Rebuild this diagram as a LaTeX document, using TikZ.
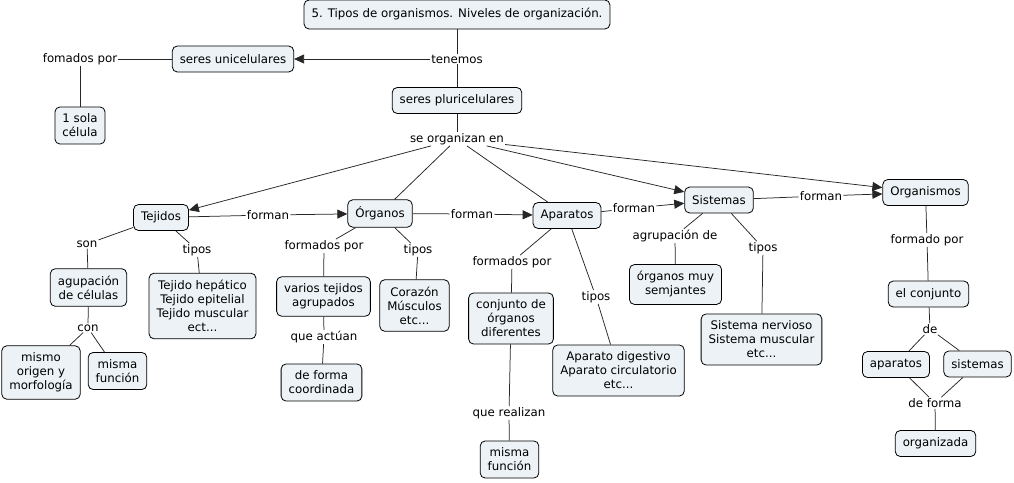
\documentclass[tikz,border=0pt]{standalone}
\usepackage{fontspec}
\setmainfont{DejaVu Sans}
\usetikzlibrary{arrows.meta}
\definecolor{conceptfill}{RGB}{236,242,245}

\begin{document}
\begin{tikzpicture}[x=1pt, y=-1pt,
    concept/.style={draw=black, fill=conceptfill, rounded corners=5pt, line width=0.8pt,
      align=center, inner xsep=7.5pt, inner ysep=7pt, minimum height=26pt,
      font=\fontsize{11.8}{14}\selectfont},
    linkword/.style={inner sep=1pt, font=\fontsize{11.8}{14}\selectfont},
    conn/.style={black!85, line width=0.75pt},
    connarrow/.style={conn, -{Triangle[length=10pt,width=9pt]}}]
  \useasboundingbox (0,0) rectangle (1014,482);

  \node[concept, minimum height=29pt] (title) at (457,14.5) {5. Tipos de organismos. Niveles de organización.};
  \node[linkword] (tenemos) at (457,59) {tenemos};
  \node[concept] (uni) at (233,59) {seres unicelulares};
  \node[linkword] (fomados) at (80,59) {fomados por};
  \node[concept] (sola) at (80,125.5) {1 sola\\célula};
  \node[concept] (pluri) at (457,100.5) {seres pluricelulares};
  \node[linkword] (seorg) at (457,139) {se organizan en};

  \node[concept] (tej) at (161,217.5) {Tejidos};
  \node[concept] (org) at (380,213.5) {Órganos};
  \node[concept] (apa) at (567,215.5) {Aparatos};
  \node[concept] (sis) at (719,200) {Sistemas};
  \node[concept] (orgm) at (925.5,192.5) {Organismos};
  \node[linkword] (forman1) at (268,215) {forman};
  \node[linkword] (forman2) at (472,214) {forman};
  \node[linkword] (forman3) at (634,208) {forman};
  \node[linkword] (forman4) at (821,196) {forman};

  \node[linkword] (son) at (87,244) {son};
  \node[concept] (agup) at (88.5,287.5) {agupación\\de células};
  \node[linkword] (con) at (88,328) {con};
  \node[concept] (mismo) at (41,372.5) {mismo\\origen y\\morfología};
  \node[concept] (mfunA) at (117.5,371) {misma\\función};
  \node[linkword] (tiposT) at (197,250) {tipos};
  \node[concept] (tejhep) at (202.5,306) {Tejido hepático\\Tejido epitelial\\Tejido muscular\\ect...};

  \node[linkword] (formpO) at (324,246) {formados por};
  \node[concept] (varios) at (323.5,296.5) {varios tejidos\\agrupados};
  \node[linkword] (queact) at (324,337) {que actúan};
  \node[concept] (coord) at (321.5,382.5) {de forma\\coordinada};
  \node[linkword] (tiposO) at (418,250) {tipos};
  \node[concept] (coraz) at (414.5,305.5) {Corazón\\Músculos\\etc...};

  \node[linkword] (formpA) at (512,262) {formados por};
  \node[concept] (conj) at (511,318.5) {conjunto de\\órganos\\diferentes};
  \node[linkword] (querea) at (509,413) {que realizan};
  \node[concept] (mfunB) at (509.5,459.5) {misma\\función};
  \node[linkword] (tiposA) at (596,297) {tipos};
  \node[concept] (apdig) at (618.5,370.5) {Aparato digestivo\\Aparato circulatorio\\etc...};

  \node[linkword] (agrde) at (675,236) {agrupación de};
  \node[concept] (orgmuy) at (675.5,284.5) {órganos muy\\semjantes};
  \node[linkword] (tiposS) at (763,248) {tipos};
  \node[concept] (sisnerv) at (761.5,339.5) {Sistema nervioso\\Sistema muscular\\etc...};

  \node[linkword] (formado) at (927,240) {formado por};
  \node[concept] (elconj) at (928.5,294) {el conjunto};
  \node[linkword] (de) at (930,329) {de};
  \node[concept] (apar) at (896,364.5) {aparatos};
  \node[concept] (sist) at (977.5,364) {sistemas};
  \node[linkword] (deforma) at (935,403) {de forma};
  \node[concept] (organiz) at (935.5,443.5) {organizada};

  \foreach \a/\b in {title/tenemos, tenemos/pluri, uni/fomados, fomados/sola, pluri/seorg,
      seorg/org, seorg/apa, tej/forman1, org/forman2, apa/forman3, sis/forman4,
      tej/son, son/agup, agup/con, con/mismo, con/mfunA, tej/tiposT, tiposT/tejhep,
      org/formpO, formpO/varios, varios/queact, queact/coord, org/tiposO, tiposO/coraz,
      apa/formpA, formpA/conj, conj/querea, querea/mfunB, apa/tiposA, tiposA/apdig,
      sis/agrde, agrde/orgmuy, sis/tiposS, tiposS/sisnerv,
      orgm/formado, formado/elconj, elconj/de, de/apar, de/sist,
      apar/deforma, sist/deforma, deforma/organiz}
    \draw[conn] (\a) -- (\b);
  \foreach \a/\b in {tenemos/uni, seorg/tej, seorg/sis, seorg/orgm,
      forman1/org, forman2/apa, forman3/sis, forman4/orgm}
    \draw[connarrow] (\a) -- (\b);
\end{tikzpicture}
\end{document}
